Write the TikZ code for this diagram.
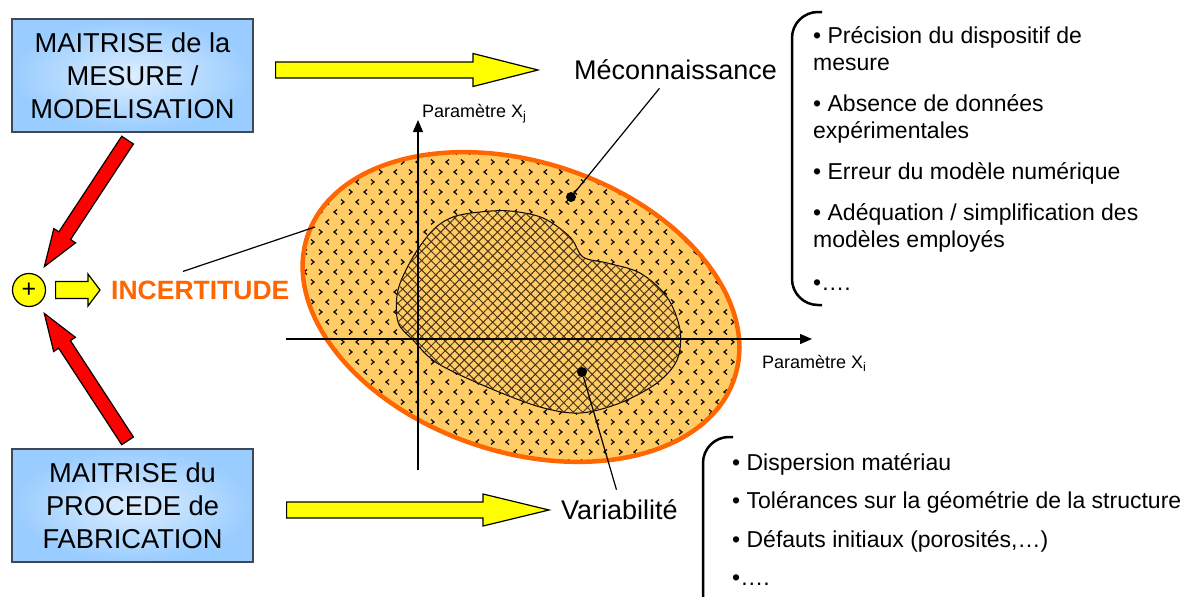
\documentclass[tikz,border=0pt]{standalone}
\usepackage{fontspec}
\setmainfont{Liberation Sans}
\usepackage{tikz}
\usetikzlibrary{arrows.meta, positioning, calc, patterns, patterns.meta}

\definecolor{boxedge}{HTML}{99CCFF}
\definecolor{boxcore}{HTML}{DDEEFF}
\definecolor{boxline}{HTML}{404858}
\definecolor{incorange}{HTML}{FF6600}
\definecolor{ellfill}{HTML}{FFCC66}
\definecolor{arrowyellow}{HTML}{FFFF00}
\definecolor{hatchbrown}{HTML}{4A3418}

\pgfdeclarepatternformonly{chevrons}{\pgfpoint{-1pt}{-1pt}}{\pgfpoint{31pt}{21pt}}{\pgfpoint{30pt}{20pt}}{%
  \pgfsetlinewidth{1.2pt}%
  \pgfpathmoveto{\pgfpoint{7pt}{7.5pt}}\pgfpathlineto{\pgfpoint{4pt}{5pt}}\pgfpathlineto{\pgfpoint{7pt}{2.5pt}}%
  \pgfpathmoveto{\pgfpoint{19pt}{7.5pt}}\pgfpathlineto{\pgfpoint{22pt}{5pt}}\pgfpathlineto{\pgfpoint{19pt}{2.5pt}}%
  \pgfpathmoveto{\pgfpoint{11pt}{17.5pt}}\pgfpathlineto{\pgfpoint{14pt}{15pt}}\pgfpathlineto{\pgfpoint{11pt}{12.5pt}}%
  \pgfpathmoveto{\pgfpoint{29pt}{17.5pt}}\pgfpathlineto{\pgfpoint{26pt}{15pt}}\pgfpathlineto{\pgfpoint{29pt}{12.5pt}}%
  \pgfusepath{stroke}}

% block arrow: style, tail, tip, half shaft width, half head width, head length
\newcommand{\blockarrow}[6]{%
  \coordinate (ba-t) at (#2);
  \coordinate (ba-p) at (#3);
  \coordinate (ba-h) at ($(ba-p)!#6!(ba-t)$);
  \draw[#1] ($(ba-t)!#4!90:(ba-p)$) -- ($(ba-h)!#4!90:(ba-p)$) -- ($(ba-h)!#5!90:(ba-p)$)
    -- (ba-p) -- ($(ba-h)!#5!-90:(ba-p)$) -- ($(ba-h)!#4!-90:(ba-p)$) -- ($(ba-t)!#4!-90:(ba-p)$) -- cycle;
}

\begin{document}
\begin{tikzpicture}[x=1pt, y=-1pt,
    box/.style={draw=boxline, line width=1.2pt, inner color=boxcore, outer color=boxedge,
      minimum width=241pt, minimum height=113pt, align=center, font=\fontsize{27.3}{33}\selectfont},
    plusnode/.style={circle, draw, line width=1.2pt, fill=arrowyellow, minimum size=33pt, inner sep=0pt,
      font=\fontsize{25}{25}\selectfont},
    redarrow/.style={draw=black, line width=1.2pt, fill=red, line join=miter},
    yelarrow/.style={draw=black, line width=1.2pt, fill=arrowyellow, line join=miter},
    axisline/.style={line width=1.3pt, -{Triangle[length=12pt, width=10pt]}},
    pointer/.style={line width=1.2pt},
    blackdot/.style={circle, fill=black, inner sep=0pt, minimum size=10pt},
    bigword/.style={inner sep=0pt, font=\fontsize{27}{30}\selectfont},
    axlabel/.style={inner sep=0pt, font=\fontsize{18}{20}\selectfont},
    listtext/.style={align=left, inner sep=0pt, font=\fontsize{23}{27}\selectfont},
    listbrace/.style={line width=2.5pt, rounded corners=26pt}
  ]
    \useasboundingbox (0,0) rectangle (1192,597);

    % Sources
    \node[box] (m1) at (132.5,75.5) {MAITRISE de la\\MESURE /\\MODELISATION};
    \node[box] (m2) at (132.5,505.5) {MAITRISE du\\PROCEDE de\\FABRICATION};

    % Sum and result
    \node[plusnode] (plus) at (29,290) {+};
    \node[inner sep=0pt, anchor=west, text=incorange, font=\fontsize{26.5}{30}\selectfont\bfseries]
      (incert) at (111,290) {INCERTITUDE};

    % Uncertainty domain
    \path[fill=ellfill, postaction={pattern=chevrons}, rotate around={-18.4:(521,307)}]
      (521,307) ellipse [x radius=225, y radius=145];
    \draw[line width=1pt, fill=ellfill,
      postaction={pattern={Hatch[angle=45, distance=6.7pt, line width=1pt]}, pattern color=hatchbrown}]
      plot[smooth cycle, tension=0.55] coordinates {(480,212) (510,211) (543,218) (570,237) (583,257)
        (607,263) (640,273) (667,297) (680,330) (677,360) (657,383) (620,403) (580,413) (540,407)
        (487,387) (437,363) (413,340) (398,322) (398,290) (413,257) (433,230) (453,217)};
    \draw[incorange, line width=4.5pt, rotate around={-18.4:(521,307)}]
      (521,307) ellipse [x radius=225, y radius=145];
    \coordinate (incedge) at (315,227);

    % Axes
    \draw[axisline] (286,339) -- (812,339);
    \draw[axisline] (418,470) -- (418,120);
    \node[axlabel, anchor=base west] (xj) at (422,117) {Paramètre X\textsubscript{j}};
    \node[axlabel, anchor=base west] (xi) at (762,368) {Paramètre X\textsubscript{i}};

    % Labels and dots
    \node[bigword, anchor=west] (mec) at (574,70) {Méconnaissance};
    \node[bigword, anchor=west] (var) at (561,510) {Variabilité};
    \node[blackdot] (mecdot) at (571,197) {};
    \node[blackdot] (vardot) at (582,372) {};

    % Arrows
    \blockarrow{redarrow}{$(m1.south)!9pt!(plus.center)$}{$(plus.center)!28pt!(m1.south)$}{7pt}{13pt}{37pt}
    \blockarrow{redarrow}{$(m2.north)!9pt!(plus.center)$}{$(plus.center)!28pt!(m2.north)$}{7pt}{13pt}{37pt}
    \blockarrow{yelarrow}{$(plus.east)+(9.5,0)$}{$(incert.west)+(-11,0)$}{8.5pt}{16pt}{12pt}
    \blockarrow{yelarrow}{$(m1.east |- mec.west)+(22,0)$}{$(mec.west)+(-36,0)$}{8pt}{16.5pt}{65pt}
    \blockarrow{yelarrow}{$(m2.east |- var.west)+(33,0)$}{$(var.west)+(-12,0)$}{8pt}{16pt}{66pt}

    % Pointers
    \draw[pointer] ($(incert.north west)+(72,-9)$) -- (incedge);
    \draw[pointer] ($(mec.south)+(-16,8)$) -- (mecdot);
    \draw[pointer] ($(var.north)+(-3,-10)$) -- (vardot);

    % Lists (right side)
    \draw[listbrace] (822,12) -- (792,12) -- (792,305) -- (822,305);
    \node[listtext, anchor=north west] (meslist) at (813,26) {• Précision du dispositif de\\mesure\\[14pt]%
      • Absence de données\\expérimentales\\[14pt]• Erreur du modèle numérique\\[14pt]%
      • Adéquation / simplification des\\modèles employés\\[16pt]•….};
    \draw[listbrace] (733,437) -- (703,437) -- (703,621) -- (733,621);
    \node[listtext, anchor=north west] (varlist) at (732,453) {• Dispersion matériau\\[11.5pt]%
      • Tolérances sur la géométrie de la structure\\[11.5pt]• Défauts initiaux (porosités,…)\\[11.5pt]•….};

  \end{tikzpicture}
\end{document}
